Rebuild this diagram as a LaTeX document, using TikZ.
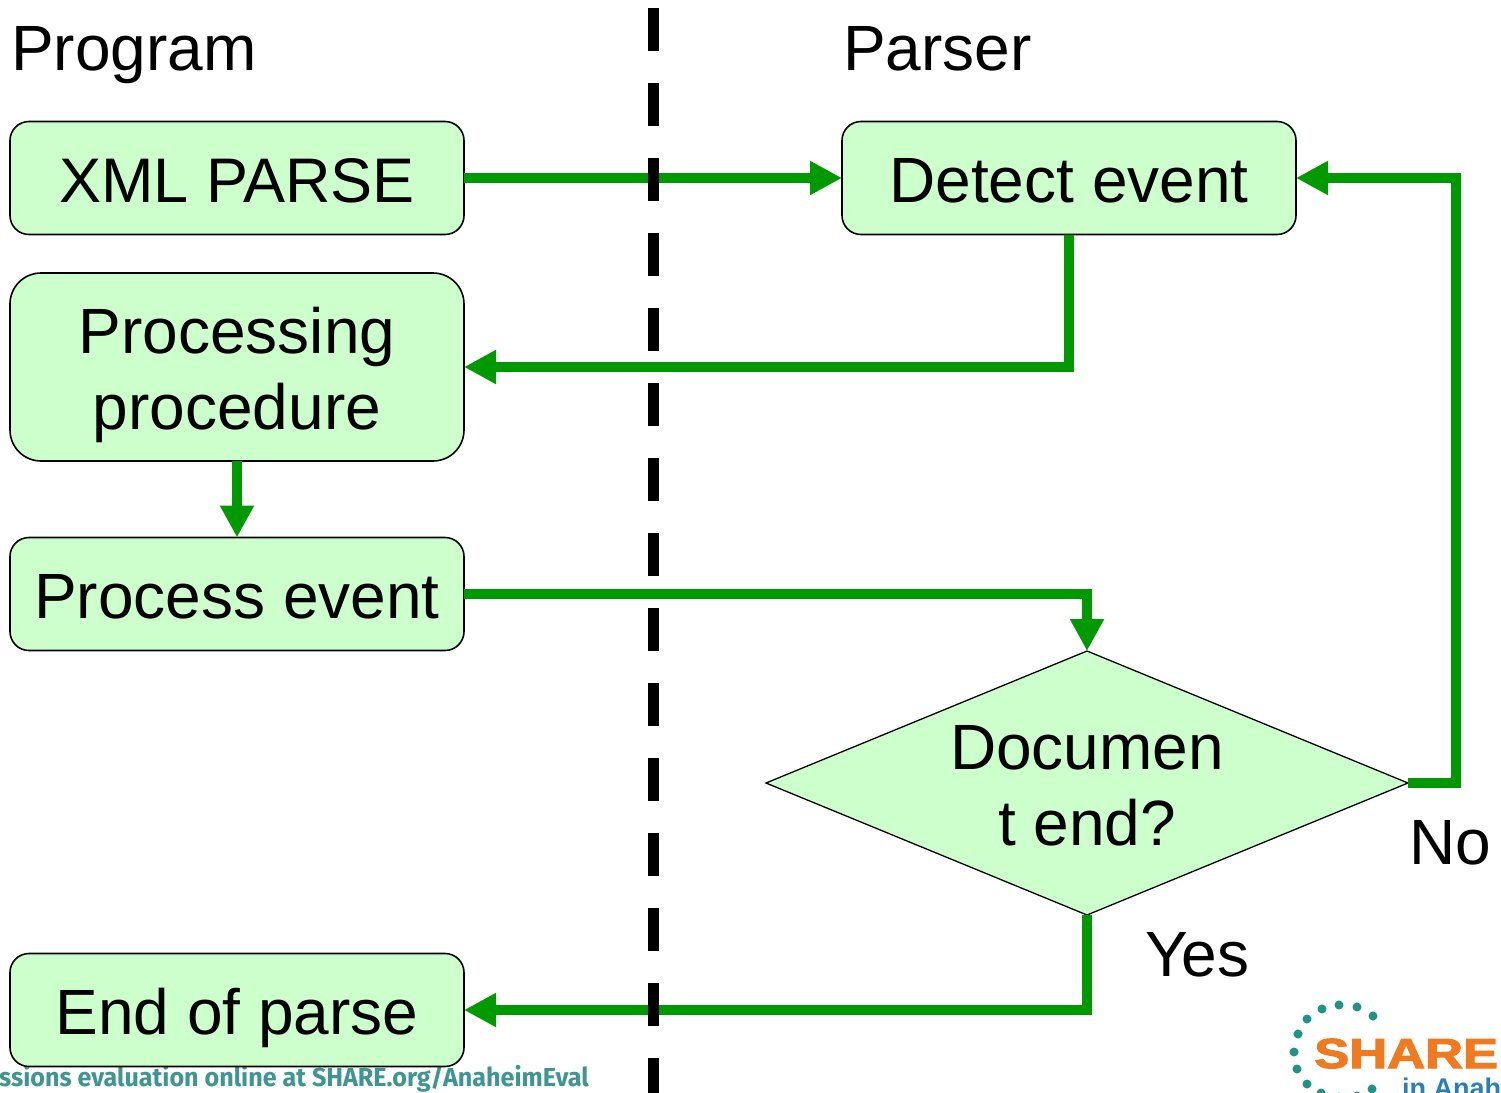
\documentclass[tikz,border=0pt]{standalone}
\usepackage{fontspec}
\setmainfont{Liberation Sans}
\newfontfamily\evalfont{Fira Sans}
\newfontfamily\sharefont[BoldFeatures={FakeBold=2.5}]{Liberation Sans}
\usetikzlibrary{arrows.meta,shapes.geometric}
\definecolor{flowgreen}{HTML}{009900}
\definecolor{boxfill}{HTML}{CCFFCC}
\definecolor{evalteal}{HTML}{3F9590}
\definecolor{sharedot}{HTML}{1F9485}
\definecolor{shareorange}{HTML}{F07A20}
\definecolor{shareblue}{HTML}{2A7FB5}
\tikzset{
  x=1pt,y=-1pt,
  bigtext/.style={font=\fontsize{64}{76}\selectfont,inner sep=0pt,outer sep=0pt},
  box/.style={draw=black,fill=boxfill,line width=1.6pt,minimum width=454pt,minimum height=113pt,
    rounded corners=19pt,inner sep=0pt,outer sep=0pt,align=center,
    font=\fontsize{64}{76}\selectfont,text height=48pt,text depth=0pt},
  tallbox/.style={box,minimum height=188pt,rounded corners=31pt,text height=,text depth=},
  decision/.style={diamond,draw=black,fill=boxfill,line width=1.3pt,minimum width=642pt,minimum height=264pt,
    aspect=2.43,inner sep=0pt,outer sep=0pt},
  flow/.style={draw=flowgreen,line width=10pt,-{Triangle[length=32pt,width=32pt]}},
  divider/.style={draw=black,line width=11pt,dash pattern=on 43pt off 32pt},
  dot/.style={circle,fill=sharedot,minimum size=9pt,inner sep=0pt},
}
\begin{document}
\begin{tikzpicture}
\useasboundingbox (0,0) rectangle (1501,1092);
\clip (0,0) rectangle (1501,1092);
\fill[white] (0,0) rectangle (1501,1092);

% bottom strip
\node[anchor=base west,inner sep=0pt,text=evalteal,font=\evalfont\fontsize{26}{30}\selectfont\bfseries,xscale=0.966] (evaltext) at (-1,1086) {ssions evaluation online at SHARE.org/AnaheimEval};

% logo
\foreach \i/\px/\py in {a/1322/1009,b/1339/1005,c/1357/1007,d/1373/1016,e/1307/1019,f/1298/1034,g/1294/1052,h/1297/1069,i/1307/1084,j/1372/1089,k/1321/1093,l/1339/1097,m/1357/1096}{
  \node[dot] (dot\i) at (\px,\py) {};
}
\node[anchor=base west,inner sep=0pt,text=shareorange,font=\sharefont\fontsize{42}{44}\selectfont\bfseries,xscale=1.25] (sharetext) at (1314,1068) {SHARE};
\node[anchor=base west,inner sep=0pt,text=shareblue,font=\fontsize{27}{30}\selectfont\bfseries] (inanaheim) at (1402,1097) {in Anah};

% headings
\node[bigtext,anchor=base west] (program) at (11,70) {Program};
\node[bigtext,anchor=base west] (parser) at (843,70) {Parser};

% boxes
\node[box,font=\fontsize{63}{76}\selectfont] (xml) at (237,178) {XML PARSE};
\node[tallbox] (proc) at (237,367) {\rule{0pt}{62pt}Processing\\procedure};
\node[box] (pevent) at (237,594) {Process event};
\node[box] (endp) at (237,1010) {End of parse};
\node[box] (detect) at (1069,178) {Detect event};
\node[decision] (doc) at (1087,783) {};
\node[bigtext,align=center] (doctext) at (1087,786) {Documen\\t end?};

\node[bigtext,anchor=base west] (no) at (1409,864) {No};
\node[bigtext,anchor=base west] (yes) at (1145,976) {Yes};

% connectors
\coordinate (corner) at ([xshift=48pt]doc.east);
\draw[flow] (xml.east) -- (detect.west);
\draw[flow] (detect.south) |- (proc.east);
\draw[flow] (proc.south) -- (pevent.north);
\draw[flow] (pevent.east) -| (doc.north);
\draw[flow] (doc.east) -- (corner) |- (detect.east);
\draw[flow] (doc.south) |- (endp.east);

% divider
\coordinate (divtop) at (653,8);
\coordinate (divbot) at (653,1095);
\draw[divider] (divtop) -- (divbot);
\end{tikzpicture}
\end{document}
